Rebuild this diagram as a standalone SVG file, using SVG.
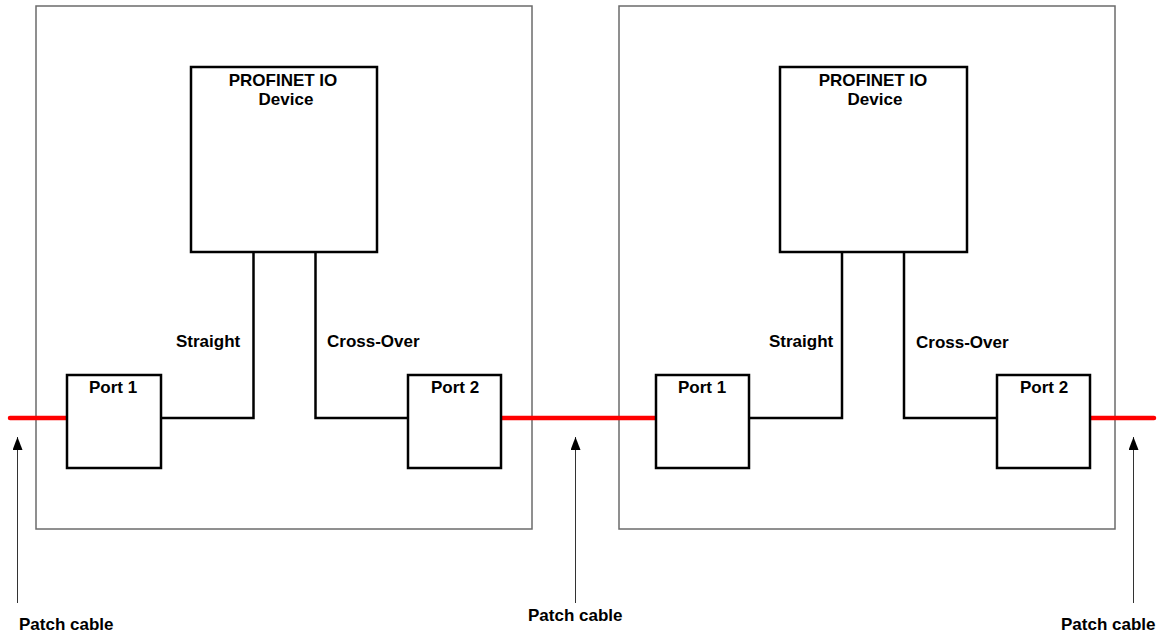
<svg xmlns="http://www.w3.org/2000/svg" width="1163" height="636" viewBox="0 0 1163 636">
<style>
.frame{fill:none;stroke:#6b6b6b;stroke-width:1.5}
.box{fill:#fff;stroke:#000;stroke-width:2.5}
.wire{fill:none;stroke:#000;stroke-width:2.5}
.cable{fill:none;stroke:#ff0000;stroke-width:4.5;stroke-linecap:round}
.ptr{fill:none;stroke:#333;stroke-width:1}
text{font-family:"Liberation Sans",Arial,sans-serif;font-weight:bold;font-size:17px;fill:#000}
.mid{text-anchor:middle}
</style>
<defs>
<marker id="ah" viewBox="0 0 13 10" refX="13" refY="5" markerWidth="13" markerHeight="10" markerUnits="userSpaceOnUse" orient="auto">
<path d="M0,0 L13,5 L0,10 Z" fill="#000"/>
</marker>
</defs>
<g id="frame1"><rect class="frame" x="36" y="6" width="496" height="523"/></g>
<g id="frame2"><rect class="frame" x="619" y="6" width="496" height="523"/></g>
<g id="connectors">
<path class="wire" d="M161,418 H253.5 V252"/>
<path class="wire" d="M315.5,252 V418 H408"/>
<path class="wire" d="M749,418 H842 V252"/>
<path class="wire" d="M904,252 V418 H997"/>
<line class="cable" x1="10" y1="418" x2="67" y2="418"/>
<line class="cable" x1="501" y1="418" x2="656" y2="418"/>
<line class="cable" x1="1090" y1="418" x2="1154" y2="418"/>
<line class="ptr" x1="17.5" y1="603" x2="17.5" y2="437" marker-end="url(#ah)"/>
<line class="ptr" x1="575.5" y1="603" x2="575.5" y2="437" marker-end="url(#ah)"/>
<line class="ptr" x1="1133.5" y1="603" x2="1133.5" y2="437" marker-end="url(#ah)"/>
<text x="176" y="347">Straight</text>
<text x="327" y="347">Cross-Over</text>
<text x="769" y="347">Straight</text>
<text x="916" y="348">Cross-Over</text>
<text x="19" y="630">Patch cable</text>
<text x="528" y="621">Patch cable</text>
<text x="1061" y="630">Patch cable</text>
</g>
<g id="device1"><rect class="box" x="191" y="67" width="186" height="185"/><text class="mid" x="283" y="86" font-size="16.5">PROFINET IO</text><text class="mid" x="286" y="105" font-size="16.5">Device</text></g>
<g id="device2"><rect class="box" x="780" y="67" width="187" height="185"/><text class="mid" x="873" y="86" font-size="16.5">PROFINET IO</text><text class="mid" x="875" y="105" font-size="16.5">Device</text></g>
<g id="port1a"><rect class="box" x="67" y="375" width="94" height="93"/><text class="mid" x="113" y="393" font-size="16.5">Port 1</text></g>
<g id="port2a"><rect class="box" x="408" y="375" width="93" height="93"/><text class="mid" x="455" y="393" font-size="16.5">Port 2</text></g>
<g id="port1b"><rect class="box" x="656" y="375" width="93" height="93"/><text class="mid" x="702" y="393" font-size="16.5">Port 1</text></g>
<g id="port2b"><rect class="box" x="997" y="375" width="93" height="93"/><text class="mid" x="1044" y="393" font-size="16.5">Port 2</text></g>
</svg>
